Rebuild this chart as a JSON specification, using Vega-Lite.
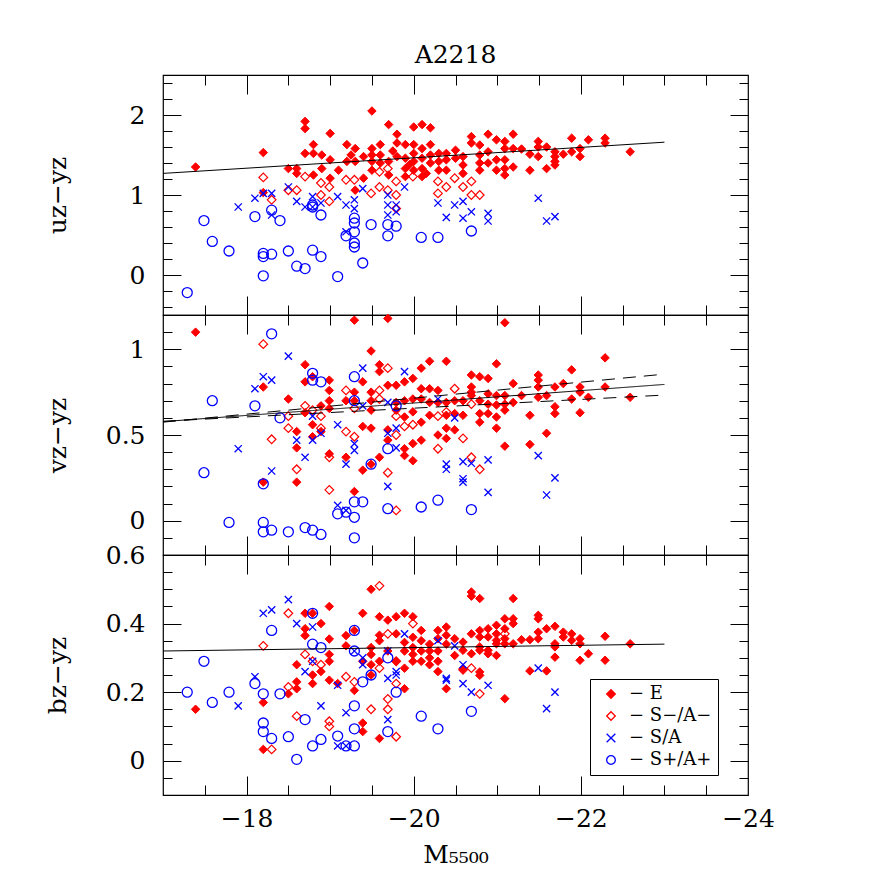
{
"$schema":"https://vega.github.io/schema/vega-lite/v6.json",
"autosize":{"type":"pad"},
"padding":{"left":44,"top":42,"right":5,"bottom":5},
"background":"white",
"title":{"text":"A2218","font":"DejaVu Serif","fontSize":25,"fontWeight":"normal","color":"black","offset":6,"anchor":"middle","frame":"group"},
"config":{
 "view":{"stroke":"black","strokeWidth":1.2},
 "font":"DejaVu Serif",
 "axis":{"domain":false,"grid":false,"labelFont":"DejaVu Serif","labelFontSize":25,"labelColor":"black","tickColor":"black","tickWidth":1,"titleFont":"DejaVu Serif","titleFontSize":25,"titleFontWeight":"normal","titleColor":"black"}
},
"spacing":0,
"bounds":"flush",
"datasets":{
"l1":[{"M":-17,"v":1.27,"k":"fit"},{"M":-23,"v":1.66,"k":"fit"}],
"l2":[{"M":-17,"v":0.578,"k":"fit"},{"M":-23,"v":0.795,"k":"fit"},{"M":-17,"v":0.575,"k":"hi"},{"M":-23,"v":0.855,"k":"hi"},{"M":-17,"v":0.58,"k":"lo"},{"M":-23,"v":0.733,"k":"lo"}],
"l3":[{"M":-17,"v":0.32,"k":"fit"},{"M":-23,"v":0.34,"k":"fit"}],
"p1":[
{"M":-17.39,"v":1.35,"t":"E"},{"M":-18.2,"v":1.53,"t":"E"},{"M":-18.2,"v":1.03,"t":"E"},{"M":-18.5,"v":1.33,"t":"E"},{"M":-18.6,"v":1.33,"t":"E"},{"M":-18.6,"v":1.27,"t":"E"},{"M":-18.7,"v":1.92,"t":"E"},{"M":-18.7,"v":1.83,"t":"E"},{"M":-18.7,"v":1.52,"t":"E"},{"M":-18.8,"v":1.63,"t":"E"},{"M":-18.8,"v":1.52,"t":"E"},{"M":-18.8,"v":1.25,"t":"E"},{"M":-18.9,"v":1.5,"t":"E"},{"M":-18.9,"v":1.33,"t":"E"},{"M":-19.0,"v":1.77,"t":"E"},{"M":-19.0,"v":1.44,"t":"E"},{"M":-19.0,"v":1.21,"t":"E"},{"M":-19.1,"v":1.31,"t":"E"},{"M":-19.2,"v":1.63,"t":"E"},{"M":-19.2,"v":1.42,"t":"E"},{"M":-19.3,"v":1.58,"t":"E"},{"M":-19.3,"v":1.42,"t":"E"},{"M":-19.3,"v":1.06,"t":"E"},{"M":-19.4,"v":1.48,"t":"E"},{"M":-19.4,"v":1.21,"t":"E"},{"M":-19.5,"v":2.05,"t":"E"},{"M":-19.5,"v":1.58,"t":"E"},{"M":-19.5,"v":1.5,"t":"E"},{"M":-19.5,"v":1.42,"t":"E"},{"M":-19.5,"v":1.31,"t":"E"},{"M":-19.6,"v":1.63,"t":"E"},{"M":-19.6,"v":1.5,"t":"E"},{"M":-19.6,"v":1.4,"t":"E"},{"M":-19.7,"v":1.88,"t":"E"},{"M":-19.7,"v":1.42,"t":"E"},{"M":-19.7,"v":1.25,"t":"E"},{"M":-19.8,"v":1.76,"t":"E"},{"M":-19.8,"v":1.65,"t":"E"},{"M":-19.8,"v":1.48,"t":"E"},{"M":-19.9,"v":1.63,"t":"E"},{"M":-19.9,"v":1.46,"t":"E"},{"M":-19.9,"v":1.33,"t":"E"},{"M":-19.9,"v":1.23,"t":"E"},{"M":-20.0,"v":1.85,"t":"E"},{"M":-20.0,"v":1.63,"t":"E"},{"M":-20.0,"v":1.52,"t":"E"},{"M":-20.0,"v":1.42,"t":"E"},{"M":-20.0,"v":1.31,"t":"E"},{"M":-20.1,"v":1.88,"t":"E"},{"M":-20.1,"v":1.58,"t":"E"},{"M":-20.1,"v":1.46,"t":"E"},{"M":-20.1,"v":1.33,"t":"E"},{"M":-20.1,"v":1.23,"t":"E"},{"M":-20.2,"v":1.84,"t":"E"},{"M":-20.2,"v":1.63,"t":"E"},{"M":-20.2,"v":1.5,"t":"E"},{"M":-20.2,"v":1.4,"t":"E"},{"M":-20.3,"v":1.52,"t":"E"},{"M":-20.3,"v":1.42,"t":"E"},{"M":-20.3,"v":1.31,"t":"E"},{"M":-19.95,"v":1.38,"t":"E"},{"M":-20.15,"v":1.27,"t":"E"},{"M":-19.75,"v":1.55,"t":"E"},{"M":-19.25,"v":1.5,"t":"E"},
{"M":-20.39,"v":1.52,"t":"E"},{"M":-20.39,"v":1.44,"t":"E"},{"M":-20.39,"v":1.31,"t":"E"},{"M":-20.5,"v":1.56,"t":"E"},{"M":-20.5,"v":1.46,"t":"E"},{"M":-20.59,"v":1.48,"t":"E"},{"M":-20.59,"v":1.375,"t":"E"},{"M":-20.59,"v":1.27,"t":"E"},{"M":-20.69,"v":1.73,"t":"E"},{"M":-20.69,"v":1.65,"t":"E"},{"M":-20.79,"v":1.625,"t":"E"},{"M":-20.79,"v":1.5,"t":"E"},{"M":-20.79,"v":1.4,"t":"E"},{"M":-20.79,"v":1.31,"t":"E"},{"M":-20.89,"v":1.76,"t":"E"},{"M":-20.89,"v":1.54,"t":"E"},{"M":-20.89,"v":1.4,"t":"E"},{"M":-20.99,"v":1.69,"t":"E"},{"M":-20.99,"v":1.44,"t":"E"},{"M":-20.99,"v":1.31,"t":"E"},{"M":-21.09,"v":1.67,"t":"E"},{"M":-21.09,"v":1.58,"t":"E"},{"M":-21.09,"v":1.44,"t":"E"},{"M":-21.09,"v":1.33,"t":"E"},{"M":-21.09,"v":1.25,"t":"E"},{"M":-21.19,"v":1.76,"t":"E"},{"M":-21.19,"v":1.58,"t":"E"},{"M":-21.19,"v":1.35,"t":"E"},{"M":-21.29,"v":1.575,"t":"E"},{"M":-21.39,"v":1.51,"t":"E"},{"M":-21.39,"v":1.31,"t":"E"},{"M":-21.49,"v":1.67,"t":"E"},{"M":-21.49,"v":1.6,"t":"E"},{"M":-21.49,"v":1.48,"t":"E"},{"M":-21.59,"v":1.6,"t":"E"},{"M":-21.59,"v":1.33,"t":"E"},{"M":-21.69,"v":1.54,"t":"E"},{"M":-21.69,"v":1.48,"t":"E"},{"M":-21.69,"v":1.42,"t":"E"},{"M":-21.69,"v":1.375,"t":"E"},{"M":-21.79,"v":1.51,"t":"E"},{"M":-21.89,"v":1.71,"t":"E"},{"M":-21.89,"v":1.54,"t":"E"},{"M":-21.99,"v":1.58,"t":"E"},{"M":-21.99,"v":1.48,"t":"E"},{"M":-22.09,"v":1.69,"t":"E"},{"M":-22.29,"v":1.71,"t":"E"},{"M":-22.29,"v":1.65,"t":"E"},{"M":-22.59,"v":1.54,"t":"E"},
{"M":-18.2,"v":1.22,"t":"S−/A−"},{"M":-18.3,"v":0.94,"t":"S−/A−"},{"M":-18.5,"v":1.06,"t":"S−/A−"},{"M":-18.6,"v":1.06,"t":"S−/A−"},{"M":-18.7,"v":1.23,"t":"S−/A−"},{"M":-18.89,"v":1.15,"t":"S−/A−"},{"M":-18.89,"v":1.0,"t":"S−/A−"},{"M":-18.99,"v":1.1,"t":"S−/A−"},{"M":-18.99,"v":0.92,"t":"S−/A−"},{"M":-19.19,"v":1.19,"t":"S−/A−"},{"M":-19.29,"v":1.19,"t":"S−/A−"},{"M":-19.49,"v":1.02,"t":"S−/A−"},{"M":-19.59,"v":1.29,"t":"S−/A−"},{"M":-19.59,"v":1.1,"t":"S−/A−"},{"M":-19.69,"v":1.33,"t":"S−/A−"},{"M":-19.69,"v":1.06,"t":"S−/A−"},{"M":-19.79,"v":1.17,"t":"S−/A−"},{"M":-19.79,"v":1.0,"t":"S−/A−"},{"M":-19.79,"v":0.83,"t":"S−/A−"},{"M":-19.99,"v":1.23,"t":"S−/A−"},{"M":-20.29,"v":1.17,"t":"S−/A−"},{"M":-20.29,"v":1.02,"t":"S−/A−"},{"M":-20.39,"v":1.1,"t":"S−/A−"},{"M":-20.49,"v":1.21,"t":"S−/A−"},{"M":-20.59,"v":1.1,"t":"S−/A−"},{"M":-20.69,"v":1.17,"t":"S−/A−"},{"M":-20.69,"v":1.0,"t":"S−/A−"},{"M":-20.79,"v":1.0,"t":"S−/A−"},
{"M":-17.9,"v":0.85,"t":"S/A"},{"M":-18.1,"v":0.96,"t":"S/A"},{"M":-18.2,"v":1.02,"t":"S/A"},{"M":-18.3,"v":1.02,"t":"S/A"},{"M":-18.3,"v":0.75,"t":"S/A"},{"M":-18.5,"v":1.1,"t":"S/A"},{"M":-18.6,"v":0.92,"t":"S/A"},{"M":-18.7,"v":0.85,"t":"S/A"},{"M":-18.79,"v":0.98,"t":"S/A"},{"M":-18.79,"v":0.85,"t":"S/A"},{"M":-18.89,"v":0.9,"t":"S/A"},{"M":-19.09,"v":0.98,"t":"S/A"},{"M":-19.19,"v":0.875,"t":"S/A"},{"M":-19.19,"v":0.54,"t":"S/A"},{"M":-19.29,"v":0.94,"t":"S/A"},{"M":-19.29,"v":0.83,"t":"S/A"},{"M":-19.39,"v":1.08,"t":"S/A"},{"M":-19.69,"v":1.0,"t":"S/A"},{"M":-19.69,"v":0.875,"t":"S/A"},{"M":-19.69,"v":0.75,"t":"S/A"},{"M":-19.79,"v":0.875,"t":"S/A"},{"M":-19.79,"v":0.79,"t":"S/A"},{"M":-19.89,"v":1.1,"t":"S/A"},{"M":-20.29,"v":0.9,"t":"S/A"},{"M":-20.39,"v":0.72,"t":"S/A"},{"M":-20.49,"v":0.875,"t":"S/A"},{"M":-20.59,"v":0.92,"t":"S/A"},{"M":-20.59,"v":0.71,"t":"S/A"},{"M":-20.69,"v":0.79,"t":"S/A"},{"M":-20.89,"v":0.77,"t":"S/A"},{"M":-20.89,"v":0.675,"t":"S/A"},{"M":-21.49,"v":0.96,"t":"S/A"},{"M":-21.59,"v":0.675,"t":"S/A"},{"M":-21.69,"v":0.73,"t":"S/A"},
{"M":-17.29,"v":-0.22,"t":"S+/A+"},{"M":-17.49,"v":0.68,"t":"S+/A+"},{"M":-17.59,"v":0.42,"t":"S+/A+"},{"M":-17.79,"v":0.3,"t":"S+/A+"},{"M":-18.1,"v":0.73,"t":"S+/A+"},{"M":-18.2,"v":0.27,"t":"S+/A+"},{"M":-18.2,"v":0.23,"t":"S+/A+"},{"M":-18.2,"v":-0.01,"t":"S+/A+"},{"M":-18.3,"v":0.81,"t":"S+/A+"},{"M":-18.3,"v":0.26,"t":"S+/A+"},{"M":-18.4,"v":0.68,"t":"S+/A+"},{"M":-18.5,"v":0.3,"t":"S+/A+"},{"M":-18.6,"v":0.11,"t":"S+/A+"},{"M":-18.7,"v":0.08,"t":"S+/A+"},{"M":-18.79,"v":0.875,"t":"S+/A+"},{"M":-18.79,"v":0.85,"t":"S+/A+"},{"M":-18.79,"v":0.31,"t":"S+/A+"},{"M":-18.89,"v":0.75,"t":"S+/A+"},{"M":-18.89,"v":0.23,"t":"S+/A+"},{"M":-19.09,"v":-0.02,"t":"S+/A+"},{"M":-19.19,"v":0.49,"t":"S+/A+"},{"M":-19.29,"v":0.71,"t":"S+/A+"},{"M":-19.29,"v":0.65,"t":"S+/A+"},{"M":-19.29,"v":0.54,"t":"S+/A+"},{"M":-19.29,"v":0.4,"t":"S+/A+"},{"M":-19.29,"v":0.35,"t":"S+/A+"},{"M":-19.39,"v":0.15,"t":"S+/A+"},{"M":-19.49,"v":0.63,"t":"S+/A+"},{"M":-19.69,"v":0.63,"t":"S+/A+"},{"M":-19.69,"v":0.49,"t":"S+/A+"},{"M":-19.79,"v":0.61,"t":"S+/A+"},{"M":-20.09,"v":0.47,"t":"S+/A+"},{"M":-20.29,"v":0.47,"t":"S+/A+"},{"M":-20.69,"v":0.55,"t":"S+/A+"}
],
"p2":[
{"M":-17.39,"v":1.1,"t":"E"},{"M":-18.2,"v":0.78,"t":"E"},{"M":-18.2,"v":0.225,"t":"E"},{"M":-18.5,"v":0.71,"t":"E"},{"M":-18.6,"v":0.52,"t":"E"},{"M":-18.6,"v":0.425,"t":"E"},{"M":-18.6,"v":0.225,"t":"E"},{"M":-18.7,"v":0.91,"t":"E"},{"M":-18.7,"v":0.81,"t":"E"},{"M":-18.7,"v":0.63,"t":"E"},{"M":-18.79,"v":0.84,"t":"E"},{"M":-18.79,"v":0.56,"t":"E"},{"M":-18.79,"v":0.49,"t":"E"},{"M":-18.89,"v":0.67,"t":"E"},{"M":-18.89,"v":0.52,"t":"E"},{"M":-18.99,"v":0.82,"t":"E"},{"M":-18.99,"v":0.76,"t":"E"},{"M":-18.99,"v":0.7,"t":"E"},{"M":-18.99,"v":0.655,"t":"E"},{"M":-18.99,"v":0.39,"t":"E"},{"M":-19.19,"v":0.7,"t":"E"},{"M":-19.19,"v":0.37,"t":"E"},{"M":-19.29,"v":1.17,"t":"E"},{"M":-19.29,"v":0.75,"t":"E"},{"M":-19.29,"v":0.7,"t":"E"},{"M":-19.29,"v":0.17,"t":"E"},{"M":-19.39,"v":0.81,"t":"E"},{"M":-19.39,"v":0.55,"t":"E"},{"M":-19.39,"v":0.295,"t":"E"},{"M":-19.49,"v":0.99,"t":"E"},{"M":-19.49,"v":0.75,"t":"E"},{"M":-19.49,"v":0.7,"t":"E"},{"M":-19.49,"v":0.645,"t":"E"},{"M":-19.49,"v":0.54,"t":"E"},{"M":-19.49,"v":0.33,"t":"E"},{"M":-19.59,"v":0.91,"t":"E"},{"M":-19.59,"v":0.87,"t":"E"},{"M":-19.59,"v":0.37,"t":"E"},{"M":-19.69,"v":1.18,"t":"E"},{"M":-19.69,"v":0.79,"t":"E"},{"M":-19.69,"v":0.53,"t":"E"},{"M":-19.69,"v":0.47,"t":"E"},{"M":-19.79,"v":0.79,"t":"E"},{"M":-19.79,"v":0.69,"t":"E"},{"M":-19.79,"v":0.645,"t":"E"},{"M":-19.89,"v":0.81,"t":"E"},{"M":-19.89,"v":0.7,"t":"E"},{"M":-19.89,"v":0.605,"t":"E"},{"M":-19.89,"v":0.42,"t":"E"},{"M":-19.89,"v":0.38,"t":"E"},{"M":-19.99,"v":0.83,"t":"E"},{"M":-19.99,"v":0.71,"t":"E"},{"M":-19.99,"v":0.635,"t":"E"},{"M":-19.99,"v":0.45,"t":"E"},{"M":-19.99,"v":0.35,"t":"E"},{"M":-20.09,"v":0.89,"t":"E"},{"M":-20.09,"v":0.77,"t":"E"},{"M":-20.09,"v":0.71,"t":"E"},{"M":-20.09,"v":0.575,"t":"E"},{"M":-20.09,"v":0.47,"t":"E"},{"M":-20.19,"v":0.93,"t":"E"},{"M":-20.19,"v":0.77,"t":"E"},{"M":-20.19,"v":0.69,"t":"E"},{"M":-20.19,"v":0.615,"t":"E"},{"M":-20.29,"v":0.76,"t":"E"},{"M":-20.29,"v":0.69,"t":"E"},{"M":-20.29,"v":0.5,"t":"E"},{"M":-20.39,"v":0.93,"t":"E"},{"M":-20.39,"v":0.69,"t":"E"},{"M":-20.39,"v":0.615,"t":"E"},{"M":-20.39,"v":0.54,"t":"E"},{"M":-20.39,"v":0.48,"t":"E"},{"M":-20.49,"v":0.7,"t":"E"},{"M":-20.49,"v":0.625,"t":"E"},{"M":-20.49,"v":0.53,"t":"E"},{"M":-20.59,"v":0.7,"t":"E"},{"M":-20.59,"v":0.615,"t":"E"},
{"M":-20.69,"v":0.85,"t":"E"},{"M":-20.69,"v":0.78,"t":"E"},{"M":-20.69,"v":0.75,"t":"E"},{"M":-20.69,"v":0.73,"t":"E"},{"M":-20.79,"v":0.84,"t":"E"},{"M":-20.79,"v":0.7,"t":"E"},{"M":-20.79,"v":0.625,"t":"E"},{"M":-20.79,"v":0.575,"t":"E"},{"M":-20.89,"v":0.83,"t":"E"},{"M":-20.89,"v":0.74,"t":"E"},{"M":-20.89,"v":0.68,"t":"E"},{"M":-20.89,"v":0.625,"t":"E"},{"M":-20.99,"v":0.915,"t":"E"},{"M":-20.99,"v":0.73,"t":"E"},{"M":-20.99,"v":0.675,"t":"E"},{"M":-20.99,"v":0.605,"t":"E"},{"M":-20.99,"v":0.54,"t":"E"},{"M":-21.09,"v":1.155,"t":"E"},{"M":-21.09,"v":0.73,"t":"E"},{"M":-21.09,"v":0.68,"t":"E"},{"M":-21.09,"v":0.645,"t":"E"},{"M":-21.09,"v":0.435,"t":"E"},{"M":-21.19,"v":0.8,"t":"E"},{"M":-21.19,"v":0.69,"t":"E"},{"M":-21.29,"v":0.73,"t":"E"},{"M":-21.39,"v":0.615,"t":"E"},{"M":-21.39,"v":0.445,"t":"E"},{"M":-21.49,"v":0.85,"t":"E"},{"M":-21.49,"v":0.82,"t":"E"},{"M":-21.49,"v":0.78,"t":"E"},{"M":-21.49,"v":0.72,"t":"E"},{"M":-21.59,"v":0.73,"t":"E"},{"M":-21.59,"v":0.51,"t":"E"},{"M":-21.69,"v":0.78,"t":"E"},{"M":-21.69,"v":0.665,"t":"E"},{"M":-21.69,"v":0.625,"t":"E"},{"M":-21.79,"v":0.8,"t":"E"},{"M":-21.89,"v":0.88,"t":"E"},{"M":-21.89,"v":0.71,"t":"E"},{"M":-21.99,"v":0.78,"t":"E"},{"M":-21.99,"v":0.75,"t":"E"},{"M":-21.99,"v":0.63,"t":"E"},{"M":-22.09,"v":0.72,"t":"E"},{"M":-22.29,"v":0.95,"t":"E"},{"M":-22.29,"v":0.78,"t":"E"},{"M":-22.59,"v":0.72,"t":"E"},
{"M":-18.2,"v":1.03,"t":"S−/A−"},{"M":-18.3,"v":0.475,"t":"S−/A−"},{"M":-18.5,"v":0.61,"t":"S−/A−"},{"M":-18.5,"v":0.54,"t":"S−/A−"},{"M":-18.6,"v":0.3,"t":"S−/A−"},{"M":-18.7,"v":0.67,"t":"S−/A−"},{"M":-18.79,"v":0.645,"t":"S−/A−"},{"M":-18.89,"v":0.61,"t":"S−/A−"},{"M":-18.89,"v":0.54,"t":"S−/A−"},{"M":-18.99,"v":0.37,"t":"S−/A−"},{"M":-18.99,"v":0.18,"t":"S−/A−"},{"M":-19.19,"v":0.76,"t":"S−/A−"},{"M":-19.19,"v":0.52,"t":"S−/A−"},{"M":-19.29,"v":0.655,"t":"S−/A−"},{"M":-19.29,"v":0.49,"t":"S−/A−"},{"M":-19.59,"v":0.76,"t":"S−/A−"},{"M":-19.59,"v":0.71,"t":"S−/A−"},{"M":-19.69,"v":0.89,"t":"S−/A−"},{"M":-19.69,"v":0.28,"t":"S−/A−"},{"M":-19.79,"v":0.61,"t":"S−/A−"},{"M":-19.79,"v":0.5,"t":"S−/A−"},{"M":-19.79,"v":0.06,"t":"S−/A−"},{"M":-19.89,"v":0.55,"t":"S−/A−"},{"M":-19.99,"v":0.56,"t":"S−/A−"},{"M":-20.29,"v":0.61,"t":"S−/A−"},{"M":-20.29,"v":0.42,"t":"S−/A−"},{"M":-20.39,"v":0.635,"t":"S−/A−"},{"M":-20.49,"v":0.77,"t":"S−/A−"},{"M":-20.59,"v":0.48,"t":"S−/A−"},{"M":-20.69,"v":0.68,"t":"S−/A−"},{"M":-20.69,"v":0.37,"t":"S−/A−"},{"M":-20.79,"v":0.3,"t":"S−/A−"},
{"M":-17.9,"v":0.42,"t":"S/A"},{"M":-18.1,"v":0.77,"t":"S/A"},{"M":-18.2,"v":0.84,"t":"S/A"},{"M":-18.3,"v":0.82,"t":"S/A"},{"M":-18.3,"v":0.29,"t":"S/A"},{"M":-18.5,"v":0.96,"t":"S/A"},{"M":-18.6,"v":0.47,"t":"S/A"},{"M":-18.7,"v":0.37,"t":"S/A"},{"M":-18.79,"v":0.61,"t":"S/A"},{"M":-18.79,"v":0.47,"t":"S/A"},{"M":-18.89,"v":0.51,"t":"S/A"},{"M":-19.09,"v":0.56,"t":"S/A"},{"M":-19.09,"v":0.09,"t":"S/A"},{"M":-19.19,"v":0.33,"t":"S/A"},{"M":-19.19,"v":0.06,"t":"S/A"},{"M":-19.29,"v":0.45,"t":"S/A"},{"M":-19.29,"v":0.41,"t":"S/A"},{"M":-19.39,"v":0.89,"t":"S/A"},{"M":-19.39,"v":0.67,"t":"S/A"},{"M":-19.69,"v":0.69,"t":"S/A"},{"M":-19.69,"v":0.51,"t":"S/A"},{"M":-19.69,"v":0.2,"t":"S/A"},{"M":-19.79,"v":0.54,"t":"S/A"},{"M":-19.79,"v":0.425,"t":"S/A"},{"M":-19.89,"v":0.87,"t":"S/A"},{"M":-20.29,"v":0.71,"t":"S/A"},{"M":-20.39,"v":0.33,"t":"S/A"},{"M":-20.39,"v":0.3,"t":"S/A"},{"M":-20.49,"v":0.6,"t":"S/A"},{"M":-20.59,"v":0.345,"t":"S/A"},{"M":-20.59,"v":0.245,"t":"S/A"},{"M":-20.59,"v":0.225,"t":"S/A"},{"M":-20.69,"v":0.335,"t":"S/A"},{"M":-20.89,"v":0.355,"t":"S/A"},{"M":-20.89,"v":0.165,"t":"S/A"},{"M":-21.49,"v":0.38,"t":"S/A"},{"M":-21.59,"v":0.15,"t":"S/A"},{"M":-21.69,"v":0.25,"t":"S/A"},
{"M":-17.49,"v":0.28,"t":"S+/A+"},{"M":-17.59,"v":0.7,"t":"S+/A+"},{"M":-17.79,"v":-0.01,"t":"S+/A+"},{"M":-18.1,"v":0.67,"t":"S+/A+"},{"M":-18.2,"v":0.215,"t":"S+/A+"},{"M":-18.2,"v":-0.01,"t":"S+/A+"},{"M":-18.2,"v":-0.065,"t":"S+/A+"},{"M":-18.3,"v":1.09,"t":"S+/A+"},{"M":-18.3,"v":-0.055,"t":"S+/A+"},{"M":-18.4,"v":0.6,"t":"S+/A+"},{"M":-18.5,"v":-0.065,"t":"S+/A+"},{"M":-18.7,"v":-0.04,"t":"S+/A+"},{"M":-18.79,"v":0.86,"t":"S+/A+"},{"M":-18.79,"v":0.82,"t":"S+/A+"},{"M":-18.79,"v":-0.055,"t":"S+/A+"},{"M":-18.89,"v":0.81,"t":"S+/A+"},{"M":-18.89,"v":-0.08,"t":"S+/A+"},{"M":-19.09,"v":0.04,"t":"S+/A+"},{"M":-19.19,"v":0.05,"t":"S+/A+"},{"M":-19.29,"v":0.84,"t":"S+/A+"},{"M":-19.29,"v":0.7,"t":"S+/A+"},{"M":-19.29,"v":0.11,"t":"S+/A+"},{"M":-19.29,"v":0.02,"t":"S+/A+"},{"M":-19.29,"v":-0.1,"t":"S+/A+"},{"M":-19.39,"v":0.11,"t":"S+/A+"},{"M":-19.49,"v":0.33,"t":"S+/A+"},{"M":-19.69,"v":0.42,"t":"S+/A+"},{"M":-19.69,"v":0.07,"t":"S+/A+"},{"M":-19.79,"v":0.67,"t":"S+/A+"},{"M":-20.09,"v":0.08,"t":"S+/A+"},{"M":-20.29,"v":0.12,"t":"S+/A+"},{"M":-20.69,"v":0.065,"t":"S+/A+"}
],
"p3":[
{"M":-17.39,"v":0.15,"t":"E"},{"M":-18.2,"v":0.17,"t":"E"},{"M":-18.2,"v":0.033,"t":"E"},{"M":-18.5,"v":0.195,"t":"E"},{"M":-18.6,"v":0.28,"t":"E"},{"M":-18.6,"v":0.23,"t":"E"},{"M":-18.6,"v":0.21,"t":"E"},{"M":-18.7,"v":0.43,"t":"E"},{"M":-18.7,"v":0.385,"t":"E"},{"M":-18.7,"v":0.365,"t":"E"},{"M":-18.79,"v":0.43,"t":"E"},{"M":-18.79,"v":0.25,"t":"E"},{"M":-18.79,"v":0.225,"t":"E"},{"M":-18.89,"v":0.4,"t":"E"},{"M":-18.89,"v":0.26,"t":"E"},{"M":-18.99,"v":0.45,"t":"E"},{"M":-18.99,"v":0.355,"t":"E"},{"M":-18.99,"v":0.31,"t":"E"},{"M":-18.99,"v":0.29,"t":"E"},{"M":-18.99,"v":0.235,"t":"E"},{"M":-19.09,"v":0.225,"t":"E"},{"M":-19.19,"v":0.365,"t":"E"},{"M":-19.19,"v":0.335,"t":"E"},{"M":-19.29,"v":0.38,"t":"E"},{"M":-19.29,"v":0.205,"t":"E"},{"M":-19.39,"v":0.43,"t":"E"},{"M":-19.39,"v":0.29,"t":"E"},{"M":-19.39,"v":0.11,"t":"E"},{"M":-19.39,"v":0.085,"t":"E"},{"M":-19.49,"v":0.5,"t":"E"},{"M":-19.49,"v":0.33,"t":"E"},{"M":-19.49,"v":0.31,"t":"E"},{"M":-19.49,"v":0.28,"t":"E"},{"M":-19.49,"v":0.25,"t":"E"},{"M":-19.59,"v":0.42,"t":"E"},{"M":-19.59,"v":0.366,"t":"E"},{"M":-19.59,"v":0.35,"t":"E"},{"M":-19.59,"v":0.29,"t":"E"},{"M":-19.59,"v":0.065,"t":"E"},{"M":-19.69,"v":0.41,"t":"E"},{"M":-19.69,"v":0.32,"t":"E"},{"M":-19.79,"v":0.42,"t":"E"},{"M":-19.79,"v":0.37,"t":"E"},{"M":-19.79,"v":0.29,"t":"E"},{"M":-19.89,"v":0.43,"t":"E"},{"M":-19.89,"v":0.345,"t":"E"},{"M":-19.89,"v":0.32,"t":"E"},{"M":-19.89,"v":0.27,"t":"E"},{"M":-19.89,"v":0.21,"t":"E"},{"M":-19.99,"v":0.42,"t":"E"},{"M":-19.99,"v":0.36,"t":"E"},{"M":-19.99,"v":0.33,"t":"E"},{"M":-19.99,"v":0.31,"t":"E"},{"M":-19.99,"v":0.29,"t":"E"},{"M":-20.09,"v":0.38,"t":"E"},{"M":-20.09,"v":0.35,"t":"E"},{"M":-20.09,"v":0.32,"t":"E"},{"M":-20.09,"v":0.29,"t":"E"},{"M":-20.19,"v":0.34,"t":"E"},{"M":-20.19,"v":0.32,"t":"E"},{"M":-20.19,"v":0.3,"t":"E"},{"M":-20.19,"v":0.28,"t":"E"},{"M":-20.29,"v":0.38,"t":"E"},{"M":-20.29,"v":0.356,"t":"E"},{"M":-20.29,"v":0.32,"t":"E"},{"M":-20.29,"v":0.29,"t":"E"},{"M":-20.29,"v":0.26,"t":"E"},{"M":-20.39,"v":0.39,"t":"E"},{"M":-20.39,"v":0.366,"t":"E"},{"M":-20.39,"v":0.34,"t":"E"},{"M":-20.39,"v":0.21,"t":"E"},{"M":-20.49,"v":0.356,"t":"E"},{"M":-20.49,"v":0.307,"t":"E"},{"M":-20.59,"v":0.346,"t":"E"},{"M":-20.59,"v":0.322,"t":"E"},{"M":-20.59,"v":0.268,"t":"E"},
{"M":-20.69,"v":0.492,"t":"E"},{"M":-20.69,"v":0.48,"t":"E"},{"M":-20.69,"v":0.37,"t":"E"},{"M":-20.69,"v":0.312,"t":"E"},{"M":-20.79,"v":0.473,"t":"E"},{"M":-20.79,"v":0.38,"t":"E"},{"M":-20.79,"v":0.361,"t":"E"},{"M":-20.79,"v":0.332,"t":"E"},{"M":-20.79,"v":0.322,"t":"E"},{"M":-20.79,"v":0.259,"t":"E"},{"M":-20.79,"v":0.249,"t":"E"},{"M":-20.89,"v":0.385,"t":"E"},{"M":-20.89,"v":0.361,"t":"E"},{"M":-20.89,"v":0.322,"t":"E"},{"M":-20.89,"v":0.312,"t":"E"},{"M":-20.99,"v":0.395,"t":"E"},{"M":-20.99,"v":0.37,"t":"E"},{"M":-20.99,"v":0.351,"t":"E"},{"M":-20.99,"v":0.341,"t":"E"},{"M":-20.99,"v":0.307,"t":"E"},{"M":-21.09,"v":0.414,"t":"E"},{"M":-21.09,"v":0.385,"t":"E"},{"M":-21.09,"v":0.356,"t":"E"},{"M":-21.09,"v":0.341,"t":"E"},{"M":-21.09,"v":0.181,"t":"E"},{"M":-21.19,"v":0.473,"t":"E"},{"M":-21.19,"v":0.414,"t":"E"},{"M":-21.19,"v":0.4,"t":"E"},{"M":-21.19,"v":0.341,"t":"E"},{"M":-21.29,"v":0.353,"t":"E"},{"M":-21.39,"v":0.353,"t":"E"},{"M":-21.39,"v":0.262,"t":"E"},{"M":-21.49,"v":0.424,"t":"E"},{"M":-21.49,"v":0.414,"t":"E"},{"M":-21.49,"v":0.375,"t":"E"},{"M":-21.49,"v":0.356,"t":"E"},{"M":-21.59,"v":0.385,"t":"E"},{"M":-21.59,"v":0.262,"t":"E"},{"M":-21.69,"v":0.392,"t":"E"},{"M":-21.69,"v":0.341,"t":"E"},{"M":-21.69,"v":0.332,"t":"E"},{"M":-21.69,"v":0.302,"t":"E"},{"M":-21.79,"v":0.375,"t":"E"},{"M":-21.79,"v":0.361,"t":"E"},{"M":-21.89,"v":0.37,"t":"E"},{"M":-21.89,"v":0.351,"t":"E"},{"M":-21.99,"v":0.356,"t":"E"},{"M":-21.99,"v":0.341,"t":"E"},{"M":-21.99,"v":0.293,"t":"E"},{"M":-22.09,"v":0.312,"t":"E"},{"M":-22.29,"v":0.363,"t":"E"},{"M":-22.29,"v":0.293,"t":"E"},{"M":-22.59,"v":0.341,"t":"E"},
{"M":-18.2,"v":0.335,"t":"S−/A−"},{"M":-18.3,"v":0.033,"t":"S−/A−"},{"M":-18.5,"v":0.43,"t":"S−/A−"},{"M":-18.5,"v":0.215,"t":"S−/A−"},{"M":-18.6,"v":0.13,"t":"S−/A−"},{"M":-18.7,"v":0.31,"t":"S−/A−"},{"M":-18.79,"v":0.29,"t":"S−/A−"},{"M":-18.89,"v":0.28,"t":"S−/A−"},{"M":-18.99,"v":0.115,"t":"S−/A−"},{"M":-18.99,"v":0.1,"t":"S−/A−"},{"M":-19.19,"v":0.245,"t":"S−/A−"},{"M":-19.29,"v":0.23,"t":"S−/A−"},{"M":-19.49,"v":0.15,"t":"S−/A−"},{"M":-19.59,"v":0.51,"t":"S−/A−"},{"M":-19.59,"v":0.27,"t":"S−/A−"},{"M":-19.69,"v":0.37,"t":"S−/A−"},{"M":-19.69,"v":0.18,"t":"S−/A−"},{"M":-19.69,"v":0.15,"t":"S−/A−"},{"M":-19.79,"v":0.29,"t":"S−/A−"},{"M":-19.79,"v":0.225,"t":"S−/A−"},{"M":-19.79,"v":0.07,"t":"S−/A−"},{"M":-19.99,"v":0.4,"t":"S−/A−"},{"M":-20.59,"v":0.265,"t":"S−/A−"},{"M":-20.69,"v":0.27,"t":"S−/A−"},{"M":-20.79,"v":0.195,"t":"S−/A−"},{"M":-21.09,"v":0.37,"t":"S−/A−"},
{"M":-17.9,"v":0.16,"t":"S/A"},{"M":-18.1,"v":0.245,"t":"S/A"},{"M":-18.2,"v":0.43,"t":"S/A"},{"M":-18.3,"v":0.44,"t":"S/A"},{"M":-18.5,"v":0.47,"t":"S/A"},{"M":-18.6,"v":0.4,"t":"S/A"},{"M":-18.7,"v":0.26,"t":"S/A"},{"M":-18.79,"v":0.39,"t":"S/A"},{"M":-18.79,"v":0.29,"t":"S/A"},{"M":-18.89,"v":0.16,"t":"S/A"},{"M":-19.09,"v":0.22,"t":"S/A"},{"M":-19.09,"v":0.043,"t":"S/A"},{"M":-19.19,"v":0.14,"t":"S/A"},{"M":-19.19,"v":0.043,"t":"S/A"},{"M":-19.29,"v":0.32,"t":"S/A"},{"M":-19.39,"v":0.3,"t":"S/A"},{"M":-19.39,"v":0.28,"t":"S/A"},{"M":-19.69,"v":0.32,"t":"S/A"},{"M":-19.69,"v":0.24,"t":"S/A"},{"M":-19.69,"v":0.12,"t":"S/A"},{"M":-19.79,"v":0.26,"t":"S/A"},{"M":-19.79,"v":0.25,"t":"S/A"},{"M":-19.89,"v":0.37,"t":"S/A"},{"M":-20.29,"v":0.35,"t":"S/A"},{"M":-20.39,"v":0.24,"t":"S/A"},{"M":-20.39,"v":0.235,"t":"S/A"},{"M":-20.49,"v":0.335,"t":"S/A"},{"M":-20.59,"v":0.28,"t":"S/A"},{"M":-20.59,"v":0.225,"t":"S/A"},{"M":-20.69,"v":0.2,"t":"S/A"},{"M":-20.89,"v":0.22,"t":"S/A"},{"M":-21.49,"v":0.27,"t":"S/A"},{"M":-21.59,"v":0.152,"t":"S/A"},{"M":-21.69,"v":0.2,"t":"S/A"},
{"M":-17.29,"v":0.2,"t":"S+/A+"},{"M":-17.49,"v":0.29,"t":"S+/A+"},{"M":-17.59,"v":0.17,"t":"S+/A+"},{"M":-17.79,"v":0.2,"t":"S+/A+"},{"M":-18.1,"v":0.225,"t":"S+/A+"},{"M":-18.2,"v":0.195,"t":"S+/A+"},{"M":-18.2,"v":0.11,"t":"S+/A+"},{"M":-18.2,"v":0.085,"t":"S+/A+"},{"M":-18.3,"v":0.38,"t":"S+/A+"},{"M":-18.3,"v":0.065,"t":"S+/A+"},{"M":-18.4,"v":0.195,"t":"S+/A+"},{"M":-18.5,"v":0.07,"t":"S+/A+"},{"M":-18.6,"v":0.004,"t":"S+/A+"},{"M":-18.7,"v":0.12,"t":"S+/A+"},{"M":-18.79,"v":0.43,"t":"S+/A+"},{"M":-18.79,"v":0.34,"t":"S+/A+"},{"M":-18.79,"v":0.043,"t":"S+/A+"},{"M":-18.89,"v":0.33,"t":"S+/A+"},{"M":-18.89,"v":0.062,"t":"S+/A+"},{"M":-19.09,"v":0.072,"t":"S+/A+"},{"M":-19.19,"v":0.043,"t":"S+/A+"},{"M":-19.29,"v":0.38,"t":"S+/A+"},{"M":-19.29,"v":0.32,"t":"S+/A+"},{"M":-19.29,"v":0.16,"t":"S+/A+"},{"M":-19.29,"v":0.093,"t":"S+/A+"},{"M":-19.29,"v":0.043,"t":"S+/A+"},{"M":-19.39,"v":0.23,"t":"S+/A+"},{"M":-19.49,"v":0.25,"t":"S+/A+"},{"M":-19.69,"v":0.3,"t":"S+/A+"},{"M":-19.69,"v":0.085,"t":"S+/A+"},{"M":-19.79,"v":0.2,"t":"S+/A+"},{"M":-20.09,"v":0.13,"t":"S+/A+"},{"M":-20.29,"v":0.093,"t":"S+/A+"},{"M":-20.69,"v":0.144,"t":"S+/A+"}
]
},
"vconcat":[
{
"width":585,"height":240,
"layer":[
{"data":{"name":"p1"},"transform":[{"filter":"datum.t === 'E'"}],
 "mark":{"type":"point","shape":"diamond","filled":true,"color":"#ff0000","stroke":"#ff0000","strokeWidth":1,"size":72,"opacity":1},
 "encoding":{"x":{"field":"M","type":"quantitative","scale":{"domain":[-24,-17],"reverse":true,"nice":false,"zero":false},"axis":null},
  "y":{"field":"v","type":"quantitative","scale":{"domain":[-0.5,2.5],"nice":false,"zero":false},"axis":{"orient":"left","values":[0,1,2],"ticks":false,"labelPadding":18,"format":"~g","labelBaseline":"middle","title":"uz−yz","titleX":-98,"titleY":120,"titleAngle":-90,"titleAlign":"center","titleBaseline":"alphabetic"}}}},
{"data":{"name":"p1"},"transform":[{"filter":"datum.t === 'S−/A−'"}],
 "mark":{"type":"point","shape":"diamond","filled":false,"color":"#ff0000","strokeWidth":1.2,"size":75,"opacity":1},
 "encoding":{"x":{"field":"M","type":"quantitative","scale":{"domain":[-24,-17],"reverse":true,"nice":false,"zero":false},"axis":{"orient":"bottom","values":[-18,-20,-22],"labels":false,"tickSize":-19,"title":null}},
  "y":{"field":"v","type":"quantitative","scale":{"domain":[-0.5,2.5],"nice":false,"zero":false},"axis":{"orient":"left","values":[0,1,2],"labels":false,"tickSize":-18,"title":null}}}},
{"data":{"name":"p1"},"transform":[{"filter":"datum.t === 'S/A'"}],
 "mark":{"type":"point","shape":"M-1,-1L1,1M-1,1L1,-1","filled":false,"color":"#0000ff","strokeWidth":1.3,"size":52,"opacity":1},
 "encoding":{"x":{"field":"M","type":"quantitative","scale":{"domain":[-24,-17],"reverse":true,"nice":false,"zero":false},"axis":{"orient":"bottom","values":[-17.5,-18.5,-19,-19.5,-20.5,-21,-21.5,-22.5,-23,-23.5],"labels":false,"tickSize":-10,"title":null}},
  "y":{"field":"v","type":"quantitative","scale":{"domain":[-0.5,2.5],"nice":false,"zero":false},"axis":{"orient":"left","values":[-0.4,-0.2,0.2,0.4,0.6,0.8,1.2,1.4,1.6,1.8,2.2,2.4],"labels":false,"tickSize":-9,"title":null}}}},
{"data":{"name":"p1"},"transform":[{"filter":"datum.t === 'S+/A+'"}],
 "mark":{"type":"point","shape":"circle","filled":false,"color":"#0000ff","strokeWidth":1.3,"size":100,"opacity":1},
 "encoding":{"x":{"field":"M","type":"quantitative","scale":{"domain":[-24,-17],"reverse":true,"nice":false,"zero":false},"axis":{"orient":"top","values":[-18,-20,-22],"labels":false,"tickSize":-19,"title":null}},
  "y":{"field":"v","type":"quantitative","scale":{"domain":[-0.5,2.5],"nice":false,"zero":false},"axis":{"orient":"right","values":[0,1,2],"labels":false,"tickSize":-18,"title":null}}}},
{"data":{"name":"l1"},
 "mark":{"type":"line","color":"black","strokeWidth":1},
 "encoding":{"x":{"field":"M","type":"quantitative","scale":{"domain":[-24,-17],"reverse":true,"nice":false,"zero":false},"axis":{"orient":"top","values":[-17.5,-18.5,-19,-19.5,-20.5,-21,-21.5,-22.5,-23,-23.5],"labels":false,"tickSize":-10,"title":null}},
  "y":{"field":"v","type":"quantitative","scale":{"domain":[-0.5,2.5],"nice":false,"zero":false},"axis":{"orient":"right","values":[-0.4,-0.2,0.2,0.4,0.6,0.8,1.2,1.4,1.6,1.8,2.2,2.4],"labels":false,"tickSize":-9,"title":null}}}}
],
"resolve":{"axis":{"x":"independent","y":"independent"}}
},
{
"width":585,"height":240,
"layer":[
{"data":{"name":"p2"},"transform":[{"filter":"datum.t === 'E'"}],
 "mark":{"type":"point","shape":"diamond","filled":true,"color":"#ff0000","stroke":"#ff0000","strokeWidth":1,"size":72,"opacity":1},
 "encoding":{"x":{"field":"M","type":"quantitative","scale":{"domain":[-24,-17],"reverse":true,"nice":false,"zero":false},"axis":null},
  "y":{"field":"v","type":"quantitative","scale":{"domain":[-0.2,1.2],"nice":false,"zero":false},"axis":{"orient":"left","values":[0,0.5,1],"ticks":false,"labelPadding":18,"format":"~g","labelBaseline":"middle","title":"vz−yz","titleX":-98,"titleY":120,"titleAngle":-90,"titleAlign":"center","titleBaseline":"alphabetic"}}}},
{"data":{"name":"p2"},"transform":[{"filter":"datum.t === 'S−/A−'"}],
 "mark":{"type":"point","shape":"diamond","filled":false,"color":"#ff0000","strokeWidth":1.2,"size":75,"opacity":1},
 "encoding":{"x":{"field":"M","type":"quantitative","scale":{"domain":[-24,-17],"reverse":true,"nice":false,"zero":false},"axis":{"orient":"bottom","values":[-18,-20,-22],"labels":false,"tickSize":-19,"title":null}},
  "y":{"field":"v","type":"quantitative","scale":{"domain":[-0.2,1.2],"nice":false,"zero":false},"axis":{"orient":"left","values":[0,0.5,1],"labels":false,"tickSize":-18,"title":null}}}},
{"data":{"name":"p2"},"transform":[{"filter":"datum.t === 'S/A'"}],
 "mark":{"type":"point","shape":"M-1,-1L1,1M-1,1L1,-1","filled":false,"color":"#0000ff","strokeWidth":1.3,"size":52,"opacity":1},
 "encoding":{"x":{"field":"M","type":"quantitative","scale":{"domain":[-24,-17],"reverse":true,"nice":false,"zero":false},"axis":{"orient":"bottom","values":[-17.5,-18.5,-19,-19.5,-20.5,-21,-21.5,-22.5,-23,-23.5],"labels":false,"tickSize":-10,"title":null}},
  "y":{"field":"v","type":"quantitative","scale":{"domain":[-0.2,1.2],"nice":false,"zero":false},"axis":{"orient":"left","values":[-0.1,0.1,0.2,0.3,0.4,0.6,0.7,0.8,0.9,1.1],"labels":false,"tickSize":-9,"title":null}}}},
{"data":{"name":"p2"},"transform":[{"filter":"datum.t === 'S+/A+'"}],
 "mark":{"type":"point","shape":"circle","filled":false,"color":"#0000ff","strokeWidth":1.3,"size":100,"opacity":1},
 "encoding":{"x":{"field":"M","type":"quantitative","scale":{"domain":[-24,-17],"reverse":true,"nice":false,"zero":false},"axis":{"orient":"top","values":[-18,-20,-22],"labels":false,"tickSize":-19,"title":null}},
  "y":{"field":"v","type":"quantitative","scale":{"domain":[-0.2,1.2],"nice":false,"zero":false},"axis":{"orient":"right","values":[0,0.5,1],"labels":false,"tickSize":-18,"title":null}}}},
{"data":{"name":"l2"},
 "mark":{"type":"line","color":"black","strokeWidth":1},
 "encoding":{"x":{"field":"M","type":"quantitative","scale":{"domain":[-24,-17],"reverse":true,"nice":false,"zero":false},"axis":{"orient":"top","values":[-17.5,-18.5,-19,-19.5,-20.5,-21,-21.5,-22.5,-23,-23.5],"labels":false,"tickSize":-10,"title":null}},
  "y":{"field":"v","type":"quantitative","scale":{"domain":[-0.2,1.2],"nice":false,"zero":false},"axis":{"orient":"right","values":[-0.1,0.1,0.2,0.3,0.4,0.6,0.7,0.8,0.9,1.1],"labels":false,"tickSize":-9,"title":null}},
  "strokeDash":{"field":"k","type":"nominal","scale":{"domain":["fit","hi","lo"],"range":[[1,0],[13,8],[13,8]]},"legend":null}}}
],
"resolve":{"axis":{"x":"independent","y":"independent"}}
},
{
"width":585,"height":240,
"layer":[
{"data":{"name":"p3"},"transform":[{"filter":"datum.t === 'E'"}],
 "mark":{"type":"point","strokeWidth":1,"size":72,"opacity":1},
 "encoding":{"x":{"field":"M","type":"quantitative","scale":{"domain":[-24,-17],"reverse":true,"nice":false,"zero":false},"axis":{"orient":"bottom","values":[-18,-20,-22,-24],"ticks":false,"labelPadding":11,"labelFlush":false,"labelOverlap":false,"labelBound":false,"format":"~g","title":"M₅₅₀₀","titleX":292.5,"titleY":67,"titleAlign":"center","titleBaseline":"alphabetic"}},
  "y":{"field":"v","type":"quantitative","scale":{"domain":[-0.1,0.6],"nice":false,"zero":false},"axis":{"orient":"left","values":[0,0.2,0.4,0.6],"ticks":false,"labelPadding":18,"format":"~g","labelBaseline":"middle","title":"bz−yz","titleX":-98,"titleY":120,"titleAngle":-90,"titleAlign":"center","titleBaseline":"alphabetic"}},
  "shape":{"field":"t","type":"nominal","scale":{"domain":["E","S−/A−","S/A","S+/A+"],"range":["diamond","diamond","M-1,-1L1,1M-1,1L1,-1","circle"]},"legend":{"title":null,"orient":"none","legendX":427,"legendY":604,"strokeColor":"black","fillColor":"white","padding":6,"symbolOffset":6,"labelFont":"DejaVu Serif","labelFontSize":18,"labelColor":"black","labelOffset":9,"rowPadding":4,"symbolSize":75,"symbolStrokeWidth":1.3,"labelExpr":"'− ' + datum.label"}},
  "fill":{"field":"t","type":"nominal","scale":{"domain":["E","S−/A−","S/A","S+/A+"],"range":["#ff0000","transparent","transparent","transparent"]}},
  "stroke":{"field":"t","type":"nominal","scale":{"domain":["E","S−/A−","S/A","S+/A+"],"range":["#ff0000","#ff0000","#0000ff","#0000ff"]}}}},
{"data":{"name":"p3"},"transform":[{"filter":"datum.t === 'S−/A−'"}],
 "mark":{"type":"point","strokeWidth":1.2,"size":75,"opacity":1},
 "encoding":{"x":{"field":"M","type":"quantitative","scale":{"domain":[-24,-17],"reverse":true,"nice":false,"zero":false},"axis":{"orient":"bottom","values":[-18,-20,-22],"labels":false,"tickSize":-19,"title":null}},
  "y":{"field":"v","type":"quantitative","scale":{"domain":[-0.1,0.6],"nice":false,"zero":false},"axis":{"orient":"left","values":[0,0.2,0.4,0.6],"labels":false,"tickSize":-18,"title":null}},
  "shape":{"field":"t","type":"nominal"},"fill":{"field":"t","type":"nominal"},"stroke":{"field":"t","type":"nominal"}}},
{"data":{"name":"p3"},"transform":[{"filter":"datum.t === 'S/A'"}],
 "mark":{"type":"point","strokeWidth":1.3,"size":52,"opacity":1},
 "encoding":{"x":{"field":"M","type":"quantitative","scale":{"domain":[-24,-17],"reverse":true,"nice":false,"zero":false},"axis":{"orient":"bottom","values":[-17.5,-18.5,-19,-19.5,-20.5,-21,-21.5,-22.5,-23,-23.5],"labels":false,"tickSize":-10,"title":null}},
  "y":{"field":"v","type":"quantitative","scale":{"domain":[-0.1,0.6],"nice":false,"zero":false},"axis":{"orient":"left","values":[-0.05,0.05,0.1,0.15,0.25,0.3,0.35,0.45,0.5,0.55],"labels":false,"tickSize":-9,"title":null}},
  "shape":{"field":"t","type":"nominal"},"fill":{"field":"t","type":"nominal"},"stroke":{"field":"t","type":"nominal"}}},
{"data":{"name":"p3"},"transform":[{"filter":"datum.t === 'S+/A+'"}],
 "mark":{"type":"point","strokeWidth":1.3,"size":100,"opacity":1},
 "encoding":{"x":{"field":"M","type":"quantitative","scale":{"domain":[-24,-17],"reverse":true,"nice":false,"zero":false},"axis":{"orient":"top","values":[-18,-20,-22],"labels":false,"tickSize":-19,"title":null}},
  "y":{"field":"v","type":"quantitative","scale":{"domain":[-0.1,0.6],"nice":false,"zero":false},"axis":{"orient":"right","values":[0,0.2,0.4,0.6],"labels":false,"tickSize":-18,"title":null}},
  "shape":{"field":"t","type":"nominal"},"fill":{"field":"t","type":"nominal"},"stroke":{"field":"t","type":"nominal"}}},
{"data":{"name":"l3"},
 "mark":{"type":"line","color":"black","strokeWidth":1},
 "encoding":{"x":{"field":"M","type":"quantitative","scale":{"domain":[-24,-17],"reverse":true,"nice":false,"zero":false},"axis":{"orient":"top","values":[-17.5,-18.5,-19,-19.5,-20.5,-21,-21.5,-22.5,-23,-23.5],"labels":false,"tickSize":-10,"title":null}},
  "y":{"field":"v","type":"quantitative","scale":{"domain":[-0.1,0.6],"nice":false,"zero":false},"axis":{"orient":"right","values":[-0.05,0.05,0.1,0.15,0.25,0.3,0.35,0.45,0.5,0.55],"labels":false,"tickSize":-9,"title":null}}}}
],
"resolve":{"axis":{"x":"independent","y":"independent"}}
}
]
}
